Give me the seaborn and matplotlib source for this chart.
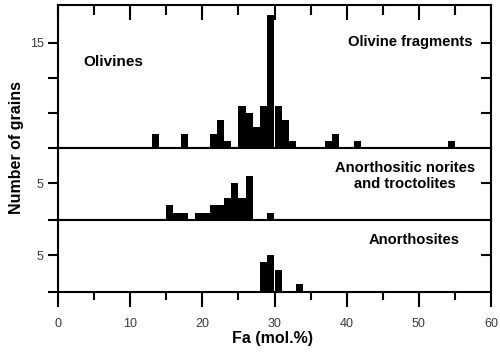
import numpy as np
import pandas as pd
import matplotlib
matplotlib.use("Agg")
import matplotlib.pyplot as plt
import seaborn as sns

# Fa bins (left edge, mol.%) and grain counts per 1 mol.% bin
olivine_fa = [13, 17, 21, 22, 23, 25, 26, 27, 28, 29, 30, 31, 32, 37, 38, 41, 54]
olivine_n = [2, 2, 2, 4, 1, 6, 5, 3, 6, 19, 6, 4, 1, 1, 2, 1, 1]

norite_fa = [15, 16, 17, 19, 20, 21, 22, 23, 24, 25, 26, 29]
norite_n = [2, 1, 1, 1, 1, 2, 2, 3, 5, 3, 6, 1]

anorth_fa = [28, 29, 30, 33]
anorth_n = [4, 5, 3, 1]

panels = [
    ("Olivine fragments", olivine_fa, olivine_n, 20.4, [0, 5, 10, 15], ["", "", "", "15"]),
    ("Anorthositic norites\nand troctolites", norite_fa, norite_n, 9.8, [0, 5], ["", "5"]),
    ("Anorthosites", anorth_fa, anorth_n, 9.8, [0, 5], ["", "5"]),
]

sns.set_style("white")
plt.rcParams["font.family"] = ["Liberation Sans", "DejaVu Sans"]
plt.rcParams["axes.linewidth"] = 1.5
plt.rcParams["text.color"] = "black"

fig = plt.figure(figsize=(5.0, 3.54), dpi=100)
gs = fig.add_gridspec(3, 1, height_ratios=[143, 72, 71.7], hspace=0,
                      left=0.116, right=0.982, top=0.986, bottom=0.176)
axes = [fig.add_subplot(gs[i]) for i in range(3)]

tick_col = "#3a3a3a"
lab_size = 10.6
for i, (ax, (name, fa, n, ymax, yt, ytl)) in enumerate(zip(axes, panels)):
    df = pd.DataFrame({"fa": np.array(fa) + 0.5, "n": n})
    sns.histplot(data=df, x="fa", weights="n", binwidth=1, binrange=(0, 60),
                 color="black", alpha=1, linewidth=0, ax=ax)
    ax.set_xlim(0, 60)
    ax.set_ylim(0, ymax)
    ax.set_xlabel("")
    ax.set_ylabel("")
    for s in ax.spines.values():
        s.set_color("black")
        s.set_linewidth(1.5)

    ax.set_yticks(yt)
    ax.set_yticklabels(ytl)
    ax.tick_params(axis="y", which="major", left=True, right=False, direction="out",
                   length=7.2, width=1.5, color="black", labelsize=9,
                   labelcolor=tick_col, pad=3)
    # inward ticks on the right side
    sec = ax.secondary_yaxis("right")
    sec.set_yticks([t for t in yt if t > 0])
    sec.set_yticklabels([])
    sec.tick_params(direction="in", length=7.2, width=1.5, color="black")
    sec.spines["right"].set_visible(False)

    ax.set_xticks(range(0, 61, 10))
    ax.set_xticks(range(5, 60, 10), minor=True)
    if i == 0:
        ax.tick_params(axis="x", which="both", bottom=False, top=True, labelbottom=False,
                       direction="in", width=1.5, color="black")
        ax.tick_params(axis="x", which="major", length=10.8)
        ax.tick_params(axis="x", which="minor", length=7.2)
        ax.text(3.5, 12.3, "Olivines", fontsize=11, fontweight="bold", ha="left", va="center")
        ax.text(57.4, 15.1, name, fontsize=lab_size, fontweight="bold", ha="right", va="center")
    elif i == 1:
        ax.tick_params(axis="x", which="both", bottom=False, top=False, labelbottom=False)
        ax.text(48.1, 6.0, name, fontsize=lab_size, fontweight="bold", ha="center", va="center",
                linespacing=1.2)
    else:
        ax.tick_params(axis="x", which="both", bottom=True, top=False, direction="out",
                       width=1.5, color="black", labelsize=9, labelcolor=tick_col, pad=8)
        ax.tick_params(axis="x", which="major", length=10.8)
        ax.tick_params(axis="x", which="minor", length=5.5)
        ax.text(49.3, 7.05, name, fontsize=lab_size, fontweight="bold", ha="center", va="center")

fig.text(17 / 500, 1 - 148 / 354, "Number of grains", rotation=90, fontsize=11.5,
         fontweight="bold", ha="center", va="center")
fig.text(273 / 500, 1 - 338 / 354, "Fa (mol.%)", fontsize=11.5, fontweight="bold",
         ha="center", va="center")

fig.savefig("out.png", dpi=100)
